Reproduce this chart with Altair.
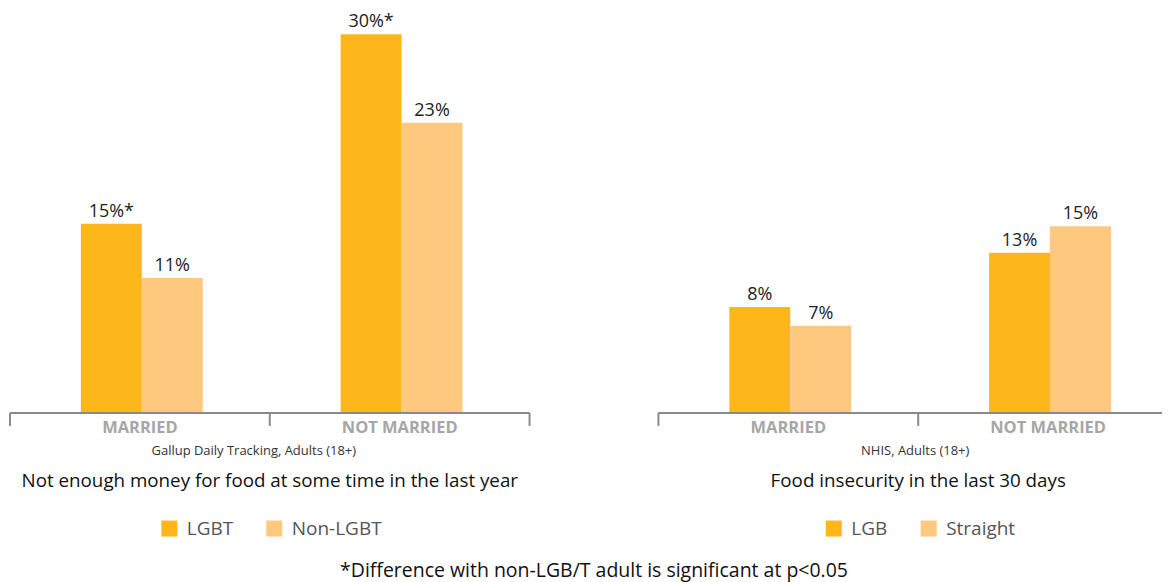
import altair as alt
import pandas as pd

FONT = "Open Sans"

categories = ["MARRIED", "NOT MARRIED"]

left_groups = ["LGBT", "Non-LGBT"]
left_first = [15.0, 30.0]
left_second = [10.7, 23.0]
left_first_labels = ["15%*", "30%*"]
left_second_labels = ["11%", "23%"]
left_source = "Gallup Daily Tracking, Adults (18+)"
left_title = "Not enough money for food at some time in the last year"

right_groups = ["LGB", "Straight"]
right_first = [8.4, 12.7]
right_second = [6.9, 14.8]
right_first_labels = ["8%", "13%"]
right_second_labels = ["7%", "15%"]
right_source = "NHIS, Adults (18+)"
right_title = "Food insecurity in the last 30 days"

footnote = "*Difference with non-LGB/T adult is significant at p<0.05"

colors = ["#FDB71A", "#FEC87F"]
axis_color = "#8a8a8a"

BAND_RANGE = 520   # two 260-px category bands
BASE = 405         # baseline of the bars inside the plot
PLOT_H = 420


def panel(groups, first, second, first_labels, second_labels, source, title,
          width, legend_x, source_x, end_tick):
    df = pd.DataFrame({
        "cat": categories + categories,
        "group": [groups[0]] * len(categories) + [groups[1]] * len(categories),
        "value": first + second,
        "label": first_labels + second_labels,
    })
    xscale = alt.Scale(domain=categories, range=[0, BAND_RANGE], paddingInner=0, paddingOuter=0)
    x = alt.X("cat:N", sort=categories, scale=xscale, axis=None)
    xo = alt.XOffset(
        "group:N",
        scale=alt.Scale(domain=["_l", groups[0], groups[1], "_r"],
                        paddingInner=0, paddingOuter=0.131, align=0.62),
    )
    y = alt.Y("value:Q", scale=alt.Scale(domain=[0, 32.07], range=[BASE, 0], nice=False, zero=True),
              axis=None)
    color = alt.Color(
        "group:N", sort=groups,
        scale=alt.Scale(domain=groups, range=colors),
        legend=alt.Legend(
            title=None, orient="none", legendX=legend_x, legendY=511,
            direction="horizontal", symbolType="square", symbolSize=256,
            symbolStrokeWidth=0, labelFont=FONT, labelFontSize=19,
            labelColor="#555555", labelOffset=8, columnPadding=31,
        ),
    )
    base = alt.Chart(df)
    bars = base.mark_bar().encode(x=x, xOffset=xo, y=y, color=color)
    text = base.mark_text(baseline="bottom", dy=-3, font=FONT, fontSize=18, color="#222222").encode(
        x=x, xOffset=xo, y=y, text="label:N"
    )

    cat_df = pd.DataFrame({"cat": categories})
    cat_labels = alt.Chart(cat_df).mark_text(
        font=FONT, fontWeight="bold", fontSize=16.5, color="#a6a6a6", baseline="middle", align="center"
    ).encode(x=alt.X("cat:N", scale=xscale, axis=None, bandPosition=0.5),
             y=alt.value(BASE + 15), text="cat:N")

    dom_df = pd.DataFrame({"a": [categories[0]]})
    domain_line = alt.Chart(dom_df).mark_rule(color=axis_color, strokeWidth=2).encode(
        x=alt.X("a:N", scale=xscale, axis=None, bandPosition=0),
        x2=alt.value(width),
        y=alt.value(BASE),
    )
    tick_cats = categories + [categories[-1]] if end_tick else categories
    tick_pos = [0] * len(categories) + ([1] if end_tick else [])
    layers = [bars, text, domain_line]
    for pos in sorted(set(tick_pos)):
        cats = [c for c, p in zip(tick_cats, tick_pos) if p == pos]
        layers.append(
            alt.Chart(pd.DataFrame({"cat": cats})).mark_rule(color=axis_color, strokeWidth=2).encode(
                x=alt.X("cat:N", scale=xscale, axis=None, bandPosition=pos),
                y=alt.value(BASE), y2=alt.value(BASE + 13),
            )
        )

    src = alt.Chart(pd.DataFrame({"t": [source]})).mark_text(
        font=FONT, fontSize=13, color="#333333", baseline="middle", align="center"
    ).encode(text="t:N", x=alt.value(source_x), y=alt.value(443))
    ttl = alt.Chart(pd.DataFrame({"t": [title]})).mark_text(
        font=FONT, fontSize=18.8, color="#111111", baseline="middle", align="center"
    ).encode(text="t:N", x=alt.value(260), y=alt.value(473))
    layers += [cat_labels, src, ttl]

    return alt.layer(*layers).properties(width=width, height=PLOT_H)


left = panel(left_groups, left_first, left_second, left_first_labels, left_second_labels,
             left_source, left_title, 520, 150, 244, True)
right = panel(right_groups, right_first, right_second, right_first_labels, right_second_labels,
              right_source, right_title, 504, 166, 257, False)

chart = alt.hconcat(left, right, spacing=127).resolve_scale(
    color="independent", x="independent", xOffset="independent", y="shared"
).resolve_legend(color="independent").properties(
    padding={"left": 1, "top": 0, "right": 0, "bottom": 4},
    title=alt.Title(footnote, orient="bottom", anchor="middle", font=FONT,
                    fontSize=19.5, fontWeight="normal", color="#111111", offset=23, dx=8),
).configure_view(stroke=None)

chart.save("out.html", embed_options={"renderer": "svg", "actions": False})
